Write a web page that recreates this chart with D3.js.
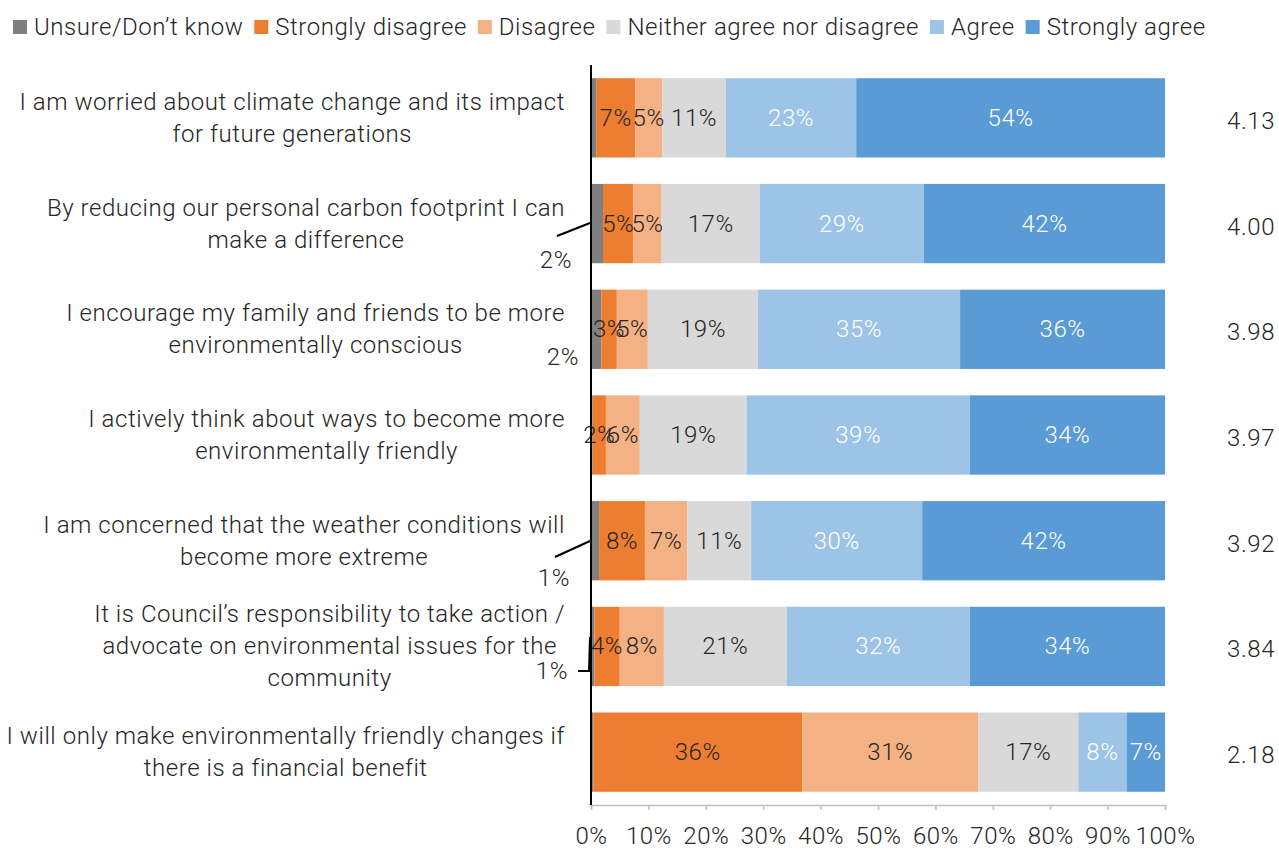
<!DOCTYPE html>
<html><head><meta charset="utf-8">
<script src="https://cdn.jsdelivr.net/npm/d3@7"></script>
<style>
html,body{margin:0;padding:0;background:#fff;}
svg text{font-family:"Roboto","Liberation Sans Narrow",sans-serif;font-weight:300;fill:#262626;letter-spacing:0.55px;}
</style></head>
<body><svg id="chart" width="1279" height="851"></svg>
<script>
const categoryLines = [
  ["I am worried about climate change and its impact", "for future generations"],
  ["By reducing our personal carbon footprint I can", "make a difference"],
  ["I encourage my family and friends to be more", "environmentally conscious"],
  ["I actively think about ways to become more", "environmentally friendly"],
  ["I am concerned that the weather conditions will", "become more extreme"],
  ["It is Council\u2019s responsibility to take action /", "advocate on environmental issues for the", "community"],
  ["I will only make environmentally friendly changes if", "there is a financial benefit"]
];
const categories = categoryLines.map(l => l.join(" "));
const seriesNames = ["Unsure/Don\u2019t know","Strongly disagree","Disagree","Neither agree nor disagree","Agree","Strongly agree"];
const unsure          = [0.9, 2.1, 1.8, 0.3, 1.4, 0.6, 0.4];
const stronglyDisagree= [6.8, 5.3, 2.7, 2.3, 8.0, 4.4, 36.4];
const disagree        = [4.7, 4.9, 5.4, 5.9, 7.4, 7.7, 30.7];
const neutral         = [11.1,17.1,19.2,18.6,11.1,21.4,17.4];
const agree           = [22.7,28.6,35.2,38.9,29.8,31.9, 8.4];
const stronglyAgree   = [53.8,42.0,35.7,34.0,42.3,34.0, 6.7];
const meanScores      = ["4.13","4.00","3.98","3.97","3.92","3.84","2.18"];
const showUnsureLabel = [false,true,true,false,true,true,false];
const xTicks = [0,10,20,30,40,50,60,70,80,90,100];
const colors = ["#7f7f7f","#ed7d31","#f4b183","#d9d9d9","#9dc3e6","#5b9bd5"];
const labelColors = ["#262626","#262626","#262626","#262626","#ffffff","#ffffff"];

const series = [unsure, stronglyDisagree, disagree, neutral, agree, stronglyAgree];
const rows = categories.map((c,i) => {
  const o = {category:c};
  seriesNames.forEach((s,j) => o[s] = series[j][i]);
  return o;
});
const stack = d3.stack().keys(seriesNames)(rows);

const svg = d3.select("#chart");
const x = d3.scaleLinear().domain([0,100]).range([591,1165]);
const y = d3.scaleBand().domain(categories).range([65,805]).paddingInner(0.25).paddingOuter(0.125);
const fs = 24;
const pct = v => d3.format(".0f")(v) + "%";

// bars
const layers = svg.append("g").selectAll("g").data(stack).join("g")
  .attr("fill", (d,i) => colors[i]);
layers.selectAll("rect").data(d => d).join("rect")
  .attr("x", d => x(d[0])).attr("width", d => x(d[1]) - x(d[0]))
  .attr("y", d => y(d.data.category)).attr("height", y.bandwidth());

// in-bar labels (not for unsure)
stack.forEach((layer, si) => {
  if (si === 0) return;
  svg.append("g").selectAll("text").data(layer).join("text")
    .attr("x", d => (x(d[0]) + x(d[1]))/2)
    .attr("y", d => y(d.data.category) + y.bandwidth()/2)
    .attr("text-anchor","middle").attr("dominant-baseline","central")
    .style("font-size", fs+"px").style("fill", labelColors[si])
    .text(d => pct(d[1]-d[0]));
});

// unsure external labels with leader lines
const unsureLayout = [
  null,
  {lx:572, ly:260, line:[[557,236],[590,223]]},
  {lx:579, ly:357, line:null},
  null,
  {lx:570, ly:578, line:[[555,557],[590,541]]},
  {lx:568, ly:671, line:[[578,671],[589,671],[590,637]]},
  null
];
categories.forEach((c,i) => {
  if (!showUnsureLabel[i]) return;
  const L = unsureLayout[i];
  svg.append("text").attr("x", L.lx).attr("y", L.ly)
    .attr("text-anchor","end").attr("dominant-baseline","central")
    .style("font-size", fs+"px").text(pct(unsure[i]));
  if (L.line) svg.append("path").attr("d", d3.line()(L.line))
    .attr("fill","none").attr("stroke","#000").attr("stroke-width",2);
});

// x axis
const xAxis = svg.append("g").attr("transform","translate(0,805)")
  .call(d3.axisBottom(x).tickValues(xTicks).tickFormat(d => d+"%").tickSize(5).tickPadding(17));
xAxis.select(".domain").attr("stroke","#bfbfbf").attr("stroke-width",1.5);
xAxis.selectAll(".tick line").attr("stroke","#bfbfbf").attr("stroke-width",1.5);
xAxis.selectAll(".tick text").style("font-size", fs+"px").style("font-family", null).attr("fill", null);

// y axis line
svg.append("line").attr("x1",591).attr("x2",591).attr("y1",65).attr("y2",805)
  .attr("stroke","#000").attr("stroke-width",2);

// category labels
const lh = 32;
categories.forEach((c,i) => {
  const lines = categoryLines[i];
  const cy = y(c) + y.bandwidth()/2;
  const g = svg.append("g");
  const texts = lines.map((ln,k) => g.append("text")
    .attr("y", cy + (k - (lines.length-1)/2)*lh)
    .attr("text-anchor","middle").attr("dominant-baseline","central")
    .style("font-size", fs+"px").text(ln));
  const maxW = d3.max(texts, t => t.node().getComputedTextLength());
  texts.forEach(t => t.attr("x", 565 - maxW/2));
});

// mean scores
categories.forEach((c,i) => {
  svg.append("text").attr("x", 1275).attr("y", y(c) + y.bandwidth()/2 + 3)
    .attr("text-anchor","end").attr("dominant-baseline","central")
    .style("font-size", fs+"px").text(meanScores[i]);
});

// legend
let lx = 13;
const legY = 27;
seriesNames.forEach((s,i) => {
  svg.append("rect").attr("x", lx).attr("y", legY-7).attr("width",14).attr("height",14).attr("fill", colors[i]);
  const t = svg.append("text").attr("x", lx+21).attr("y", legY).attr("dominant-baseline","central")
    .style("font-size", fs+"px").text(s);
  lx += 21 + t.node().getComputedTextLength() + 11;
});
</script></body></html>
